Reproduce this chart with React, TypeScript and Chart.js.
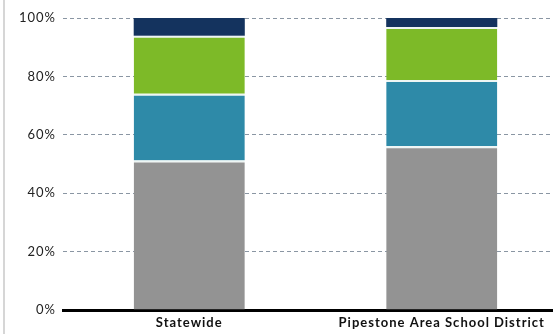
import React, { useEffect, useRef } from "react";
import { Chart, registerables } from "chart.js";

Chart.register(...registerables);

const categories = ["Statewide", "Pipestone Area School District"];
const grayValues = [51.2, 56.1];
const blueValues = [22.9, 22.7];
const greenValues = [19.8, 18.1];
const navyValues = [6.1, 3.1];
const yTicks = [0, 20, 40, 60, 80, 100];

const spacingPlugin = {
  id: "spacing",
  beforeDraw: (chart: any) => {
    (chart.ctx as any).letterSpacing = "1px";
  },
  afterDraw: (chart: any) => {
    (chart.ctx as any).letterSpacing = "0px";
  },
};

export default function App() {
  const ref = useRef<HTMLCanvasElement | null>(null);

  useEffect(() => {
    document.body.style.margin = "0";
    const ctx = ref.current!;
    const mk = (label: string, data: number[], color: string) => ({
      label,
      data,
      backgroundColor: color,
      borderColor: "#eef6f4",
      borderWidth: { top: 2, left: 0, right: 0, bottom: 0 },
      borderSkipped: false,
      barPercentage: 0.44,
      categoryPercentage: 1,
    });
    const chart = new Chart(ctx, {
      type: "bar",
      data: {
        labels: categories,
        datasets: [
          mk("A", grayValues, "#939393"),
          mk("B", blueValues, "#2e8aa8"),
          mk("C", greenValues, "#7dba28"),
          { ...mk("D", navyValues, "#14335e"), borderWidth: 0 },
        ],
      },
      plugins: [spacingPlugin],
      options: {
        animation: false,
        responsive: false,
        maintainAspectRatio: false,
        layout: { padding: { top: 18, right: 2, bottom: 2, left: 0 } },
        plugins: { legend: { display: false }, tooltip: { enabled: false } },
        scales: {
          x: {
            stacked: true,
            grid: { display: false, drawTicks: false },
            border: { display: true, color: "#000", width: 3 },
            afterFit: (axis: any) => {
              axis.height = 22;
            },
            ticks: {
              color: "#111",
              padding: 5,
              font: { family: "Lato, 'Open Sans', sans-serif", size: 13, weight: "bold" },
            },
          },
          y: {
            stacked: true,
            min: 0,
            max: 100,
            afterBuildTicks: (axis: any) => {
              axis.ticks = yTicks.map((v) => ({ value: v }));
            },
            afterFit: (axis: any) => {
              axis.width = 63;
            },
            grid: {
              color: "#8a96a3",
              lineWidth: 1,
              drawTicks: false,
            },
            border: { display: false, dash: [4, 3] },
            ticks: {
              color: "#222",
              padding: 7,
              callback: (v: any) => v + "%",
              font: { family: "Lato, 'Open Sans', sans-serif", size: 13 },
            },
          },
        },
      },
    } as any);
    return () => chart.destroy();
  }, []);

  return (
    <div style={{ position: "relative", width: 553, height: 334, overflow: "hidden", background: "#fff" }}>
      <canvas ref={ref} width={570} height={334} style={{ position: "absolute", left: 0, top: 0, width: 570, height: 334 }} />
      <div style={{ position: "absolute", left: 3, top: 0, width: 2, height: 334, background: "#d6d6d6" }} />
    </div>
  );
}
